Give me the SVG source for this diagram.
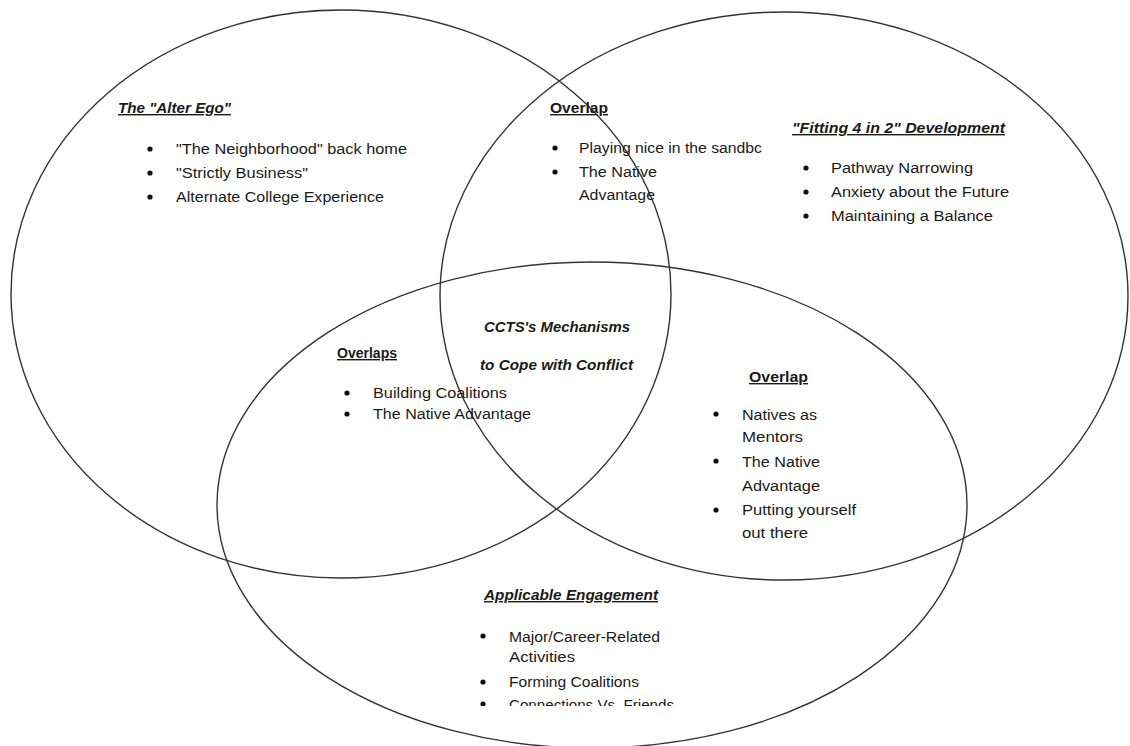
<svg xmlns="http://www.w3.org/2000/svg" width="1130" height="746" viewBox="0 0 1130 746">
<style>
.ell{fill:none;stroke:#333;stroke-width:1.4}
text{font-family:"Liberation Sans",Arial,sans-serif;font-size:14px;fill:#1a1a1a}
.h{font-weight:bold;text-decoration:underline}
.hi{font-weight:bold;font-style:italic;text-decoration:underline}
.bi{font-weight:bold;font-style:italic}
.b{fill:#111}
</style>
<defs>
<clipPath id="clipBottom"><rect x="0" y="0" width="1130" height="706"/></clipPath>
</defs>
<rect width="1130" height="746" fill="#fff"/>
<g id="circles">
<ellipse id="circle-alter-ego" class="ell" cx="341" cy="294" rx="330" ry="284"/>
<ellipse id="circle-fitting" class="ell" cx="784" cy="296" rx="344" ry="284"/>
<ellipse id="circle-engagement" class="ell" cx="592" cy="505" rx="375" ry="243"/>
</g>
<g id="node-alter-ego">
<text class="hi" x="118" y="113" textLength="113" lengthAdjust="spacingAndGlyphs">The "Alter Ego"</text>
<circle class="b" cx="150" cy="149" r="2.6"/><text x="176" y="154" textLength="231" lengthAdjust="spacingAndGlyphs">"The Neighborhood" back home</text>
<circle class="b" cx="150" cy="173" r="2.6"/><text x="176" y="178" textLength="132" lengthAdjust="spacingAndGlyphs">"Strictly Business"</text>
<circle class="b" cx="150" cy="197" r="2.6"/><text x="176" y="202" textLength="208" lengthAdjust="spacingAndGlyphs">Alternate College Experience</text>
</g>
<g id="node-overlap-top">
<text class="h" x="550" y="113" textLength="58" lengthAdjust="spacingAndGlyphs">Overlap</text>
<circle class="b" cx="555" cy="148" r="2.6"/><text x="579" y="153" textLength="183" lengthAdjust="spacingAndGlyphs">Playing nice in the sandbc</text>
<circle class="b" cx="555" cy="172" r="2.6"/><text x="579" y="177" textLength="78" lengthAdjust="spacingAndGlyphs">The Native</text>
<text x="579" y="200" textLength="76" lengthAdjust="spacingAndGlyphs">Advantage</text>
</g>
<g id="node-fitting">
<text class="hi" x="792" y="133" textLength="213" lengthAdjust="spacingAndGlyphs">"Fitting 4 in 2" Development</text>
<circle class="b" cx="806" cy="168" r="2.6"/><text x="831" y="173" textLength="142" lengthAdjust="spacingAndGlyphs">Pathway Narrowing</text>
<circle class="b" cx="806" cy="192" r="2.6"/><text x="831" y="197" textLength="178" lengthAdjust="spacingAndGlyphs">Anxiety about the Future</text>
<circle class="b" cx="806" cy="216" r="2.6"/><text x="831" y="221" textLength="162" lengthAdjust="spacingAndGlyphs">Maintaining a Balance</text>
</g>
<g id="node-center">
<text class="bi" x="484" y="332" textLength="146" lengthAdjust="spacingAndGlyphs">CCTS's Mechanisms</text>
<text class="bi" x="480" y="370" textLength="153" lengthAdjust="spacingAndGlyphs">to Cope with Conflict</text>
</g>
<g id="node-overlaps-left">
<text class="h" x="337" y="358" textLength="60" lengthAdjust="spacingAndGlyphs">Overlaps</text>
<circle class="b" cx="347" cy="393" r="2.6"/><text x="373" y="398" textLength="134" lengthAdjust="spacingAndGlyphs">Building Coalitions</text>
<circle class="b" cx="347" cy="414" r="2.6"/><text x="373" y="419" textLength="158" lengthAdjust="spacingAndGlyphs">The Native Advantage</text>
</g>
<g id="node-overlap-right">
<text class="h" x="749" y="382" textLength="59" lengthAdjust="spacingAndGlyphs">Overlap</text>
<circle class="b" cx="716" cy="414" r="2.6"/><text x="742" y="420" textLength="75" lengthAdjust="spacingAndGlyphs">Natives as</text>
<text x="742" y="442" textLength="61" lengthAdjust="spacingAndGlyphs">Mentors</text>
<circle class="b" cx="716" cy="461" r="2.6"/><text x="742" y="467" textLength="78" lengthAdjust="spacingAndGlyphs">The Native</text>
<text x="742" y="491" textLength="78" lengthAdjust="spacingAndGlyphs">Advantage</text>
<circle class="b" cx="716" cy="510" r="2.6"/><text x="742" y="515" textLength="114" lengthAdjust="spacingAndGlyphs">Putting yourself</text>
<text x="742" y="538" textLength="66" lengthAdjust="spacingAndGlyphs">out there</text>
</g>
<g id="node-engagement">
<text class="hi" x="484" y="600" textLength="174" lengthAdjust="spacingAndGlyphs">Applicable Engagement</text>
<circle class="b" cx="483" cy="636" r="2.6"/><text x="509" y="642" textLength="151" lengthAdjust="spacingAndGlyphs">Major/Career-Related</text>
<text x="509" y="662" textLength="66" lengthAdjust="spacingAndGlyphs">Activities</text>
<circle class="b" cx="483" cy="682" r="2.6"/><text x="509" y="687" textLength="130" lengthAdjust="spacingAndGlyphs">Forming Coalitions</text>
<g clip-path="url(#clipBottom)">
<circle class="b" cx="483" cy="704" r="2.6"/><text x="509" y="710" textLength="165" lengthAdjust="spacingAndGlyphs">Connections Vs. Friends</text>
</g>
</g>
</svg>
